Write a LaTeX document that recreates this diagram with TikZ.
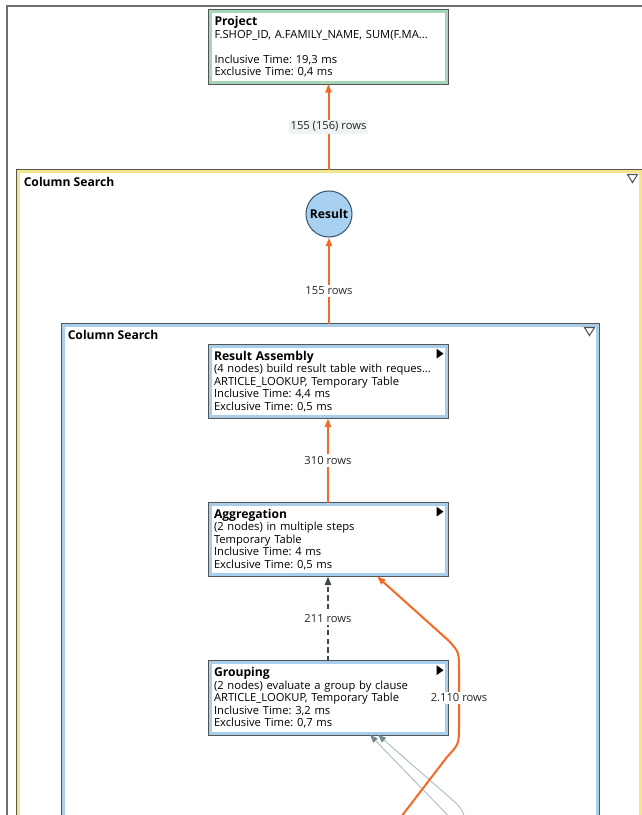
\documentclass[tikz,border=0pt]{standalone}
\usepackage{fontspec}
\setmainfont{Open Sans}
\frenchspacing
\usetikzlibrary{arrows.meta,positioning,shapes,calc}
\definecolor{frame}{HTML}{555555}
\definecolor{pagegray}{HTML}{6E6E6E}
\definecolor{projgreen}{HTML}{A3D7B5}
\definecolor{nodeblue}{HTML}{A9CEEC}
\definecolor{searchyellow}{HTML}{F4E48C}
\definecolor{rowsorange}{HTML}{F26A25}
\definecolor{resultfill}{HTML}{A8D0F0}
\definecolor{resultline}{HTML}{3E5874}
\definecolor{dashink}{HTML}{3B474E}
\definecolor{grayline}{HTML}{AFC2C5}
\definecolor{grayhead}{HTML}{71888E}
\definecolor{labelbg}{HTML}{EEF3F4}
\newcommand{\bodyfont}{\fontsize{8.4}{9.4}\selectfont}
\newcommand{\titlefont}{\fontsize{9.1}{10.4}\selectfont\bfseries}
\tikzset{
  opbox/.style={fill=white,draw=#1,line width=2.25pt,
                preaction={fill=frame,draw=frame,line width=3.75pt},
                minimum width=177pt,minimum height=53pt,text width=171pt,
                inner xsep=3pt,inner ysep=2pt,align=left,font=\bodyfont},
  searchbox/.style={fill=white,draw=#1,line width=2.25pt,
                    preaction={fill=frame,draw=frame,line width=3.75pt},
                    anchor=north west},
  searchtitle/.style={anchor=west,inner sep=0pt,font=\titlefont},
  resultnode/.style={circle,draw=resultline,fill=resultfill,line width=0.8pt,
                     minimum size=34.5pt,inner sep=0pt,font=\titlefont},
  rowlabel/.style={fill=white,inner sep=1.5pt,font=\bodyfont,text=black!85},
  rowsarr/.style={-{Triangle[length=6.5pt,width=4.5pt]},line width=1.5pt,color=rowsorange},
  pipearr/.style={-{Triangle[length=6.5pt,width=4.5pt]},line width=1.5pt,color=dashink,
                  dash pattern=on 4pt off 2.5pt},
  feedarr/.style={-{Triangle[length=6pt,width=4.5pt,color=grayhead]},line width=0.75pt,color=grayline},
  collapse/.style={draw=frame,line width=0.8pt,line join=miter}
}
\begin{document}
\begin{tikzpicture}[x=0.75pt,y=-0.75pt]
  \clip (0,0) rectangle (642,815);
  % page frame
  \draw[pagegray,line width=1.2pt] (7,830) |- (660,6);

  % column search containers
  \node[searchbox=searchyellow,minimum width=466.5pt,minimum height=548pt] (outersearch) at (16.5,169.5) {};
  \node[searchtitle] (outertitle) at ([shift={(7,12)}]outersearch.north west) {Column Search};
  \draw[collapse] ([shift={(-14,5)}]outersearch.north east) -- ++(10,0) -- ++(-5,8) -- cycle;
  \node[searchbox=nodeblue,minimum width=400.5pt,minimum height=470pt] (innersearch) at (61.5,323.5) {};
  \node[searchtitle] (innertitle) at ([shift={(6,11)}]innersearch.north west) {Column Search};
  \draw[collapse] ([shift={(-14,4)}]innersearch.north east) -- ++(10,0) -- ++(-5,8) -- cycle;

  % operators
  \node[opbox=projgreen] (project) at (328.5,47)
    {{\titlefont Project}\\F.SHOP\_ID, A.FAMILY\_NAME, SUM(F.MA...\\[9.4pt]Inclusive Time: 19,3 ms\\Exclusive Time: 0,4 ms};
  \node[resultnode] (result) at (329,214) {Result};
  \node[opbox=nodeblue] (assembly) at (328,381.5)
    {{\titlefont Result Assembly}\\(4 nodes) build result table with reques...\\ARTICLE\_LOOKUP, Temporary Table\\Inclusive Time: 4,4 ms\\Exclusive Time: 0,5 ms};
  \node[opbox=nodeblue] (aggregation) at (328,539.5)
    {{\titlefont Aggregation}\\(2 nodes) in multiple steps\\Temporary Table\\Inclusive Time: 4 ms\\Exclusive Time: 0,5 ms};
  \node[opbox=nodeblue] (grouping) at (328,698)
    {{\titlefont Grouping}\\(2 nodes) evaluate a group by clause\\ARTICLE\_LOOKUP, Temporary Table\\Inclusive Time: 3,2 ms\\Exclusive Time: 0,7 ms};
  \fill ([shift={(-11,4)}]assembly.north east) -- ++(0,10) -- ++(7,-5) -- cycle;
  \fill ([shift={(-11,4)}]aggregation.north east) -- ++(0,10) -- ++(7,-5) -- cycle;
  \fill ([shift={(-11,4)}]grouping.north east) -- ++(0,10) -- ++(7,-5) -- cycle;

  % row flows
  \draw[rowsarr] (project.south |- outersearch.north) -- node[rowlabel,fill=labelbg] {155 (156) rows} (project.south);
  \draw[rowsarr] (result.south |- innersearch.north) -- node[rowlabel,pos=0.38] {155 rows} (result.south);
  \draw[rowsarr] (aggregation.north) -- node[rowlabel] {310 rows} (assembly.south);
  \draw[pipearr] (grouping.north) -- node[rowlabel] {211 rows} (aggregation.south);

  \coordinate (feedsrcA) at (462,830);
  \coordinate (feedsrcB) at (466,830);
  \draw[feedarr] (feedsrcA) -- ([shift={(42,0)}]grouping.south);
  \draw[feedarr] (feedsrcB) .. controls (464,812) .. (456,803) -- ([shift={(50,0)}]grouping.south);

  \coordinate (ordersrc) at (391,830);
  \draw[rowsarr] (ordersrc) -- (447,757) .. controls (459,744) .. (459,726)
    -- node[rowlabel] {2.110 rows} (459,670) .. controls (459,652) .. (449,641)
    -- ([shift={(49,0)}]aggregation.south);
\end{tikzpicture}
\end{document}
